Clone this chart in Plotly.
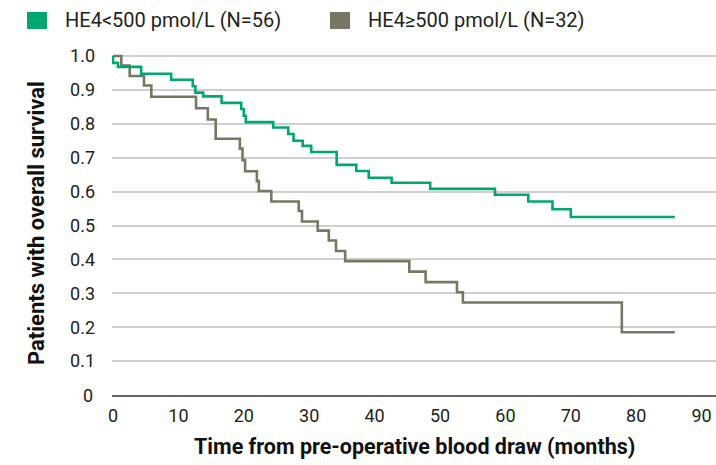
import plotly.graph_objects as go

# Kaplan-Meier data
green_name = "HE4<500 pmol/L (N=56)"
green_t = [0, 0, 0.76, 4.3, 8.9, 12.2, 12.6, 13.8, 16.6, 19.6, 20.0, 20.3, 24.5, 26.8, 27.6, 29.0,
           30.3, 34.2, 37.2, 39.1, 42.6, 48.5, 58.4, 63.5, 67.2, 70.0, 85.9]
green_s = [1.0, 0.98, 0.968, 0.948, 0.930, 0.911, 0.892, 0.881, 0.862, 0.844, 0.824, 0.805, 0.789, 0.770,
           0.750, 0.735, 0.717, 0.679, 0.661, 0.641, 0.626, 0.608, 0.591, 0.571, 0.548, 0.525, 0.525]

gray_name = "HE4≥500 pmol/L (N=32)"
gray_t = [0, 1.27, 2.55, 4.74, 5.86, 12.7, 14.5, 15.7, 19.4, 19.8, 20.2, 22.0, 22.3, 24.2, 28.4, 28.9,
          31.3, 33.0, 34.1, 35.5, 45.3, 47.8, 52.6, 53.5, 77.8, 85.9]
gray_s = [1.0, 0.972, 0.941, 0.913, 0.880, 0.846, 0.813, 0.756, 0.727, 0.693, 0.660, 0.631, 0.602, 0.571,
          0.543, 0.512, 0.485, 0.456, 0.425, 0.395, 0.364, 0.333, 0.303, 0.273, 0.185, 0.185]

x_ticks = [0, 10, 20, 30, 40, 50, 60, 70, 80, 90]
y_ticks = [0, 0.1, 0.2, 0.3, 0.4, 0.5, 0.6, 0.7, 0.8, 0.9, 1.0]
y_tick_labels = ["0", "0.1", "0.2", "0.3", "0.4", "0.5", "0.6", "0.7", "0.8", "0.9", "1.0"]

GREEN = "#00A870"
GRAY = "#777763"
FONT = "Roboto, Arial, sans-serif"

fig = go.Figure()
fig.add_trace(go.Scatter(x=gray_t, y=gray_s, mode="lines", line=dict(color=GRAY, width=2.6, shape="hv"),
                         showlegend=False, name=gray_name))
fig.add_trace(go.Scatter(x=green_t, y=green_s, mode="lines", line=dict(color=GREEN, width=2.6, shape="hv"),
                         showlegend=False, name=green_name))

L, R, T, B = 112, 0, 53, 70
W, H = 716, 465
pw = W - L - R
ph = H - T - B


def px(x):
    return (x - L) / pw


def py(y):
    return (H - B - y) / ph


shapes = []
annotations = []
# custom legend: swatch + label
legend_items = [(green_name, GREEN, 27, 63), (gray_name, GRAY, 330, 366)]
for name, color, sx, tx in legend_items:
    shapes.append(dict(type="rect", xref="paper", yref="paper", x0=px(sx), x1=px(sx + 20),
                       y0=py(29), y1=py(12), fillcolor=color, line=dict(width=0), layer="above"))
    annotations.append(dict(text=name, xref="paper", yref="paper", x=px(tx), y=py(20.5), xanchor="left",
                            yanchor="middle", showarrow=False, font=dict(size=20, color="#222222")))

annotations += [
    dict(text="<b>Time from pre-operative blood draw (months)</b>", xref="paper", yref="paper",
         x=px(414), y=py(447), xanchor="center", yanchor="middle", showarrow=False,
         font=dict(size=21.5, color="#111111")),
    dict(text="<b>Patients with overall survival</b>", xref="paper", yref="paper",
         x=px(36), y=py(223), xanchor="center", yanchor="middle", showarrow=False,
         textangle=-90, font=dict(size=22, color="#111111")),
    dict(text="0", xref="paper", yref="y", x=px(95), y=0, xanchor="right", yanchor="middle",
         showarrow=False, font=dict(size=18, color="#222222")),
]

fig.update_layout(
    width=W, height=H,
    margin=dict(l=L, r=R, t=T, b=B, pad=0),
    paper_bgcolor="white", plot_bgcolor="white",
    font=dict(family=FONT, size=18, color="#222222"),
    showlegend=False,
    xaxis=dict(range=[-0.153, 92.2], tickmode="array", tickvals=x_ticks, ticktext=[str(v) for v in x_ticks],
               showgrid=False, zeroline=False, showline=True, linecolor="#666666", linewidth=1.6,
               ticks="", tickfont=dict(size=18, color="#222222"), ticklabelstandoff=4),
    yaxis=dict(range=[0, 1.009], tickmode="array", tickvals=y_ticks[1:], ticktext=y_tick_labels[1:],
               showgrid=True, gridcolor="#cfcfcf", gridwidth=1.5, zeroline=False, showline=False,
               ticks="", tickfont=dict(size=18, color="#222222"), ticklabelstandoff=16),
    shapes=shapes,
    annotations=annotations,
)

fig.write_html("out.html")
